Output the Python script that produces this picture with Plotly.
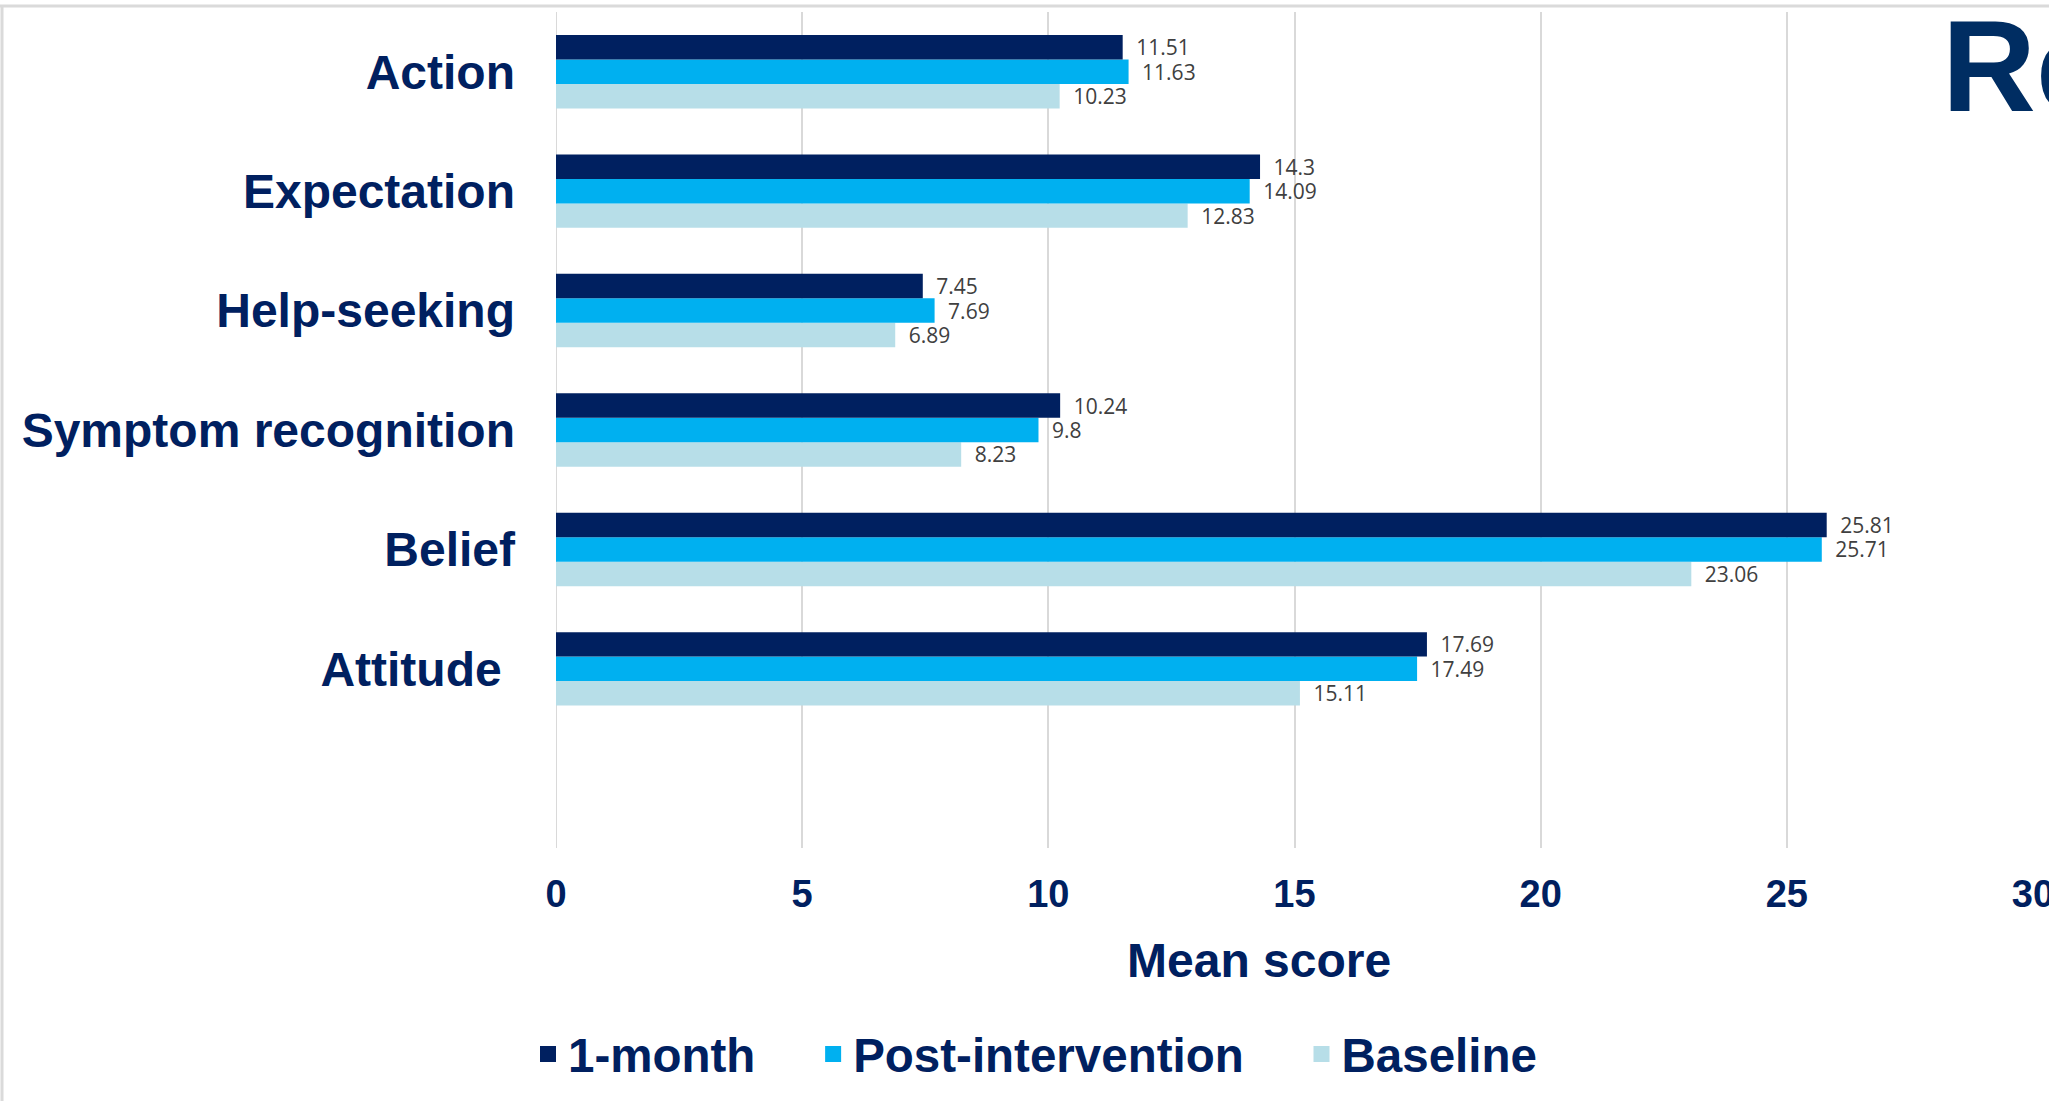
import plotly.graph_objects as go

# ---- data ----
categories = ["Action", "Expectation", "Help-seeking", "Symptom recognition", "Belief", "Attitude\u00a0"]
one_month = [11.51, 14.3, 7.45, 10.24, 25.81, 17.69]
post_intervention = [11.63, 14.09, 7.69, 9.8, 25.71, 17.49]
baseline = [10.23, 12.83, 6.89, 8.23, 23.06, 15.11]
series_names = ["1-month", "Post-intervention", "Baseline"]
x_ticks = [0, 5, 10, 15, 20, 25, 30]

NAVY = "#002060"
colors = {"1-month": "#002060", "Post-intervention": "#00B0F0", "Baseline": "#B7DEE8"}
legend_pad = {"1-month": 4, "Post-intervention": 4, "Baseline": 0}

W, H = 2049, 1101
L, R, T, B = 556, 16, 12, 253
PW, PH = W - L - R, H - T - B

def px_x(p):
    return (p - L) / PW

def px_y(p):
    return (H - B - p) / PH

fig = go.Figure()
# plotly draws first trace at the bottom of a horizontal group
for name, vals in [("Baseline", baseline), ("Post-intervention", post_intervention), ("1-month", one_month)]:
    fig.add_trace(go.Bar(
        y=categories, x=vals, orientation="h", name=name, showlegend=False,
        marker=dict(color=colors[name], line=dict(width=0)),
        text=[f"\u2002{v:g}" for v in vals], textposition="outside",
        constraintext="none",
        textfont=dict(family="Open Sans", size=21, color="#404040"),
        cliponaxis=False,
    ))

# legend entries (square keys)
for name in series_names:
    fig.add_trace(go.Scatter(
        x=[None], y=[None], mode="markers", name=name + "\u00a0" * legend_pad[name],
        marker=dict(symbol="square", size=16, color=colors[name]),
        showlegend=True, hoverinfo="skip",
    ))

fig.update_layout(
    width=W, height=H,
    margin=dict(l=L, r=R, t=T, b=B, autoexpand=False),
    paper_bgcolor="white", plot_bgcolor="white",
    barmode="group", bargap=0.385, bargroupgap=0,
    font=dict(family="Liberation Sans", color=NAVY),
    showlegend=True,
    legend=dict(
        orientation="h", traceorder="normal",
        x=px_x(528), xanchor="left", y=px_y(1054), yanchor="middle",
        font=dict(family="Liberation Sans", size=47.5, color=NAVY, weight="bold"),
        bgcolor="rgba(0,0,0,0)",
    ),
    xaxis=dict(
        range=[0, 30], tickvals=x_ticks, ticktext=[str(t) for t in x_ticks],
        showgrid=True, gridcolor="#D9D9D9", gridwidth=2,
        zeroline=False, showline=False, ticks="",
        tickfont=dict(family="Liberation Sans", size=38, color=NAVY, weight="bold"),
        ticklabelstandoff=20, ticklabeloverflow="allow", automargin=False,
    ),
    yaxis=dict(
        type="category",
        categoryorder="array", categoryarray=categories[::-1],
        range=[-1.5, 5.5],
        showgrid=False, zeroline=False, showline=False, ticks="",
        tickfont=dict(family="Liberation Sans", size=48, color=NAVY, weight="bold"),
        ticklabelstandoff=40, automargin=False,
    ),
    shapes=[
        dict(type="line", xref="x", yref="paper", x0=0, x1=0, y0=0, y1=1,
             line=dict(color="#D9D9D9", width=2), layer="below"),
        dict(type="line", xref="paper", yref="paper", x0=px_x(0), x1=px_x(W), y0=px_y(6), y1=px_y(6),
             line=dict(color="#DADADA", width=3)),
        dict(type="line", xref="paper", yref="paper", x0=px_x(2), x1=px_x(2), y0=px_y(6), y1=px_y(H),
             line=dict(color="#DADADA", width=3)),
    ],
    annotations=[
        dict(text="Mean score", xref="x", yref="paper", x=14.27, y=px_y(960),
             xanchor="center", yanchor="middle", showarrow=False,
             font=dict(family="Liberation Sans", size=48, color=NAVY, weight="bold")),
        dict(text="Results", xref="paper", yref="paper", x=px_x(1940), y=px_y(66),
             xanchor="left", yanchor="middle", showarrow=False,
             font=dict(family="Liberation Sans", size=130, color="#002D62", weight="bold")),
    ],
)

fig.write_html("out.html")
